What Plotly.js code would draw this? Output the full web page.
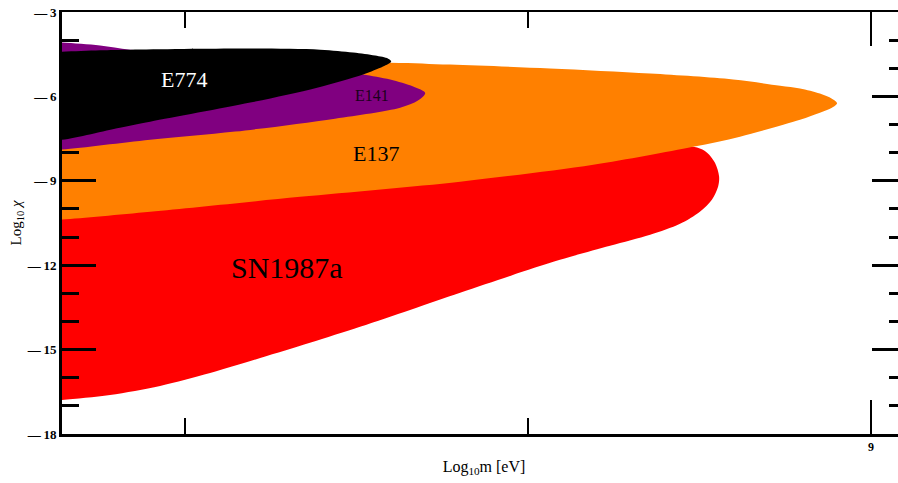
<!DOCTYPE html>
<html><head><meta charset="utf-8">
<script src="https://cdn.plot.ly/plotly-3.0.1.min.js"></script>
<style>html,body{margin:0;padding:0;overflow:hidden;background:#fff}#chart{width:910px;height:483px}</style>
</head><body><div id="chart"></div>
<script>
// Region outlines (x = log10 m [eV], y = log10 chi)
const sn1987aX = [6.55, 6.898, 7.335, 7.802, 8.190, 8.443, 8.493, 8.522, 8.545, 8.557, 8.554, 8.536, 8.501, 8.443, 8.356, 8.239, 8.093, 7.948, 7.802, 7.656, 7.510, 7.364, 7.219, 7.073, 6.927, 6.781, 6.641, 6.55];
const sn1987aY = [-10.10, -9.74, -9.21, -8.68, -8.07, -7.75, -7.82, -8.00, -8.36, -8.85, -9.21, -9.67, -10.10, -10.53, -10.92, -11.31, -11.81, -12.38, -12.98, -13.59, -14.19, -14.76, -15.30, -15.83, -16.29, -16.61, -16.79, -16.90];

const e137X = [6.55, 7.598, 7.773, 8.064, 8.356, 8.598, 8.735, 8.793, 8.851, 8.886, 8.901, 8.886, 8.851, 8.793, 8.618, 8.481, 8.190, 7.802, 7.335, 6.898, 6.641, 6.55];
const e137Y = [-4.83, -4.80, -4.87, -5.01, -5.19, -5.40, -5.62, -5.72, -5.90, -6.08, -6.24, -6.40, -6.58, -6.83, -7.43, -7.79, -8.43, -9.03, -9.57, -10.10, -10.38, -10.45];

const e141X = [6.55, 6.641, 6.752, 6.840, 7.044, 7.335, 7.452, 7.519, 7.598, 7.665, 7.700, 7.679, 7.627, 7.437, 7.146, 6.898, 6.641, 6.55];
const e141Y = [-4.05, -4.085, -4.19, -4.34, -4.51, -4.87, -5.12, -5.22, -5.40, -5.65, -5.88, -6.15, -6.40, -6.79, -7.25, -7.54, -7.89, -7.95];

const e774X = [6.55, 6.641, 6.752, 6.840, 7.190, 7.394, 7.490, 7.554, 7.592, 7.601, 7.577, 7.519, 7.385, 7.190, 6.898, 6.810, 6.641, 6.55];
const e774Y = [-4.43, -4.41, -4.36, -4.34, -4.30, -4.34, -4.44, -4.55, -4.66, -4.76, -4.94, -5.22, -5.69, -6.22, -6.90, -7.11, -7.54, -7.60];

// Tick labels
const xTickVals = [9];
const xTickText = ['9'];
const yTickVals = [-18, -15, -12, -9, -6, -3];
const yTickText = ['\u2014\u200918', '\u2014\u200915', '\u2014\u200912', '\u2014\u20099', '\u2014\u20096', '\u2014\u20093'];

// Region labels
const labelText = ['E774', 'E141', 'E137', 'SN1987a'];
const labelX = [6.997, 7.545, 7.557, 7.297];
const labelY = [-5.40, -5.97, -8.04, -12.09];

const FONT = '"Liberation Serif", "Times New Roman", serif';
const regions = [
  {x: sn1987aX, y: sn1987aY, color: '#FF0000'},
  {x: e137X, y: e137Y, color: '#FF8000'},
  {x: e141X, y: e141Y, color: '#800080'},
  {x: e774X, y: e774Y, color: '#000000'}
];
const traces = regions.map(r => ({
  type: 'scatter', mode: 'lines', x: r.x, y: r.y,
  fill: 'toself', fillcolor: r.color,
  line: {width: 0, color: r.color, shape: 'spline', smoothing: 0.9},
  hoverinfo: 'skip', showlegend: false
}));

const labelColors = ['#FFFFFF', '#1a001a', '#000000', '#000000'];
const labelSizes = [22, 16, 22, 30];
const annotations = labelText.map((t, i) => ({
  x: labelX[i], y: labelY[i], xref: 'x', yref: 'y', text: t, showarrow: false,
  font: {family: FONT, size: labelSizes[i], color: labelColors[i]}
}));

const layout = {
  width: 910, height: 483,
  margin: {l: 62, r: 4, t: 12, b: 49},
  paper_bgcolor: '#fff', plot_bgcolor: '#fff',
  showlegend: false,
  font: {family: FONT, color: '#000'},
  xaxis: {
    range: [6.641, 9.102], showgrid: false, zeroline: false,
    showline: true, linewidth: 2.5, linecolor: '#000', mirror: 'allticks',
    ticks: 'inside', tickmode: 'array', tickvals: xTickVals, ticktext: xTickText.map(t => '<b>' + t + '</b>'),
    ticklen: 34, tickwidth: 2.5, tickcolor: '#000',
    minor: {ticks: 'inside', tickmode: 'linear', tick0: 0, dtick: 1, ticklen: 16, tickwidth: 2.5, tickcolor: '#000', showgrid: false},
    tickfont: {family: FONT, size: 12, color: '#000'},
    title: {text: 'Log<sub>10</sub>m [eV]', font: {family: FONT, size: 16}, standoff: 8}
  },
  yaxis: {
    range: [-18, -3], showgrid: false, zeroline: false,
    showline: true, linewidth: 3, linecolor: '#000', mirror: 'allticks',
    ticks: 'inside', tickmode: 'array', tickvals: yTickVals, ticktext: yTickText.map(t => '<b>' + t + '</b>'),
    ticklen: 34, tickwidth: 3, tickcolor: '#000',
    minor: {ticks: 'inside', tickmode: 'linear', tick0: 0, dtick: 1, ticklen: 17, tickwidth: 3, tickcolor: '#000', showgrid: false},
    tickfont: {family: FONT, size: 13, color: '#000'},
    title: {text: 'Log<sub>10</sub> <i>χ</i>', font: {family: FONT, size: 15}, standoff: 2}
  },
  annotations: annotations
};

Plotly.newPlot('chart', traces, layout, {displayModeBar: false, staticPlot: true});
</script>
</body></html>
